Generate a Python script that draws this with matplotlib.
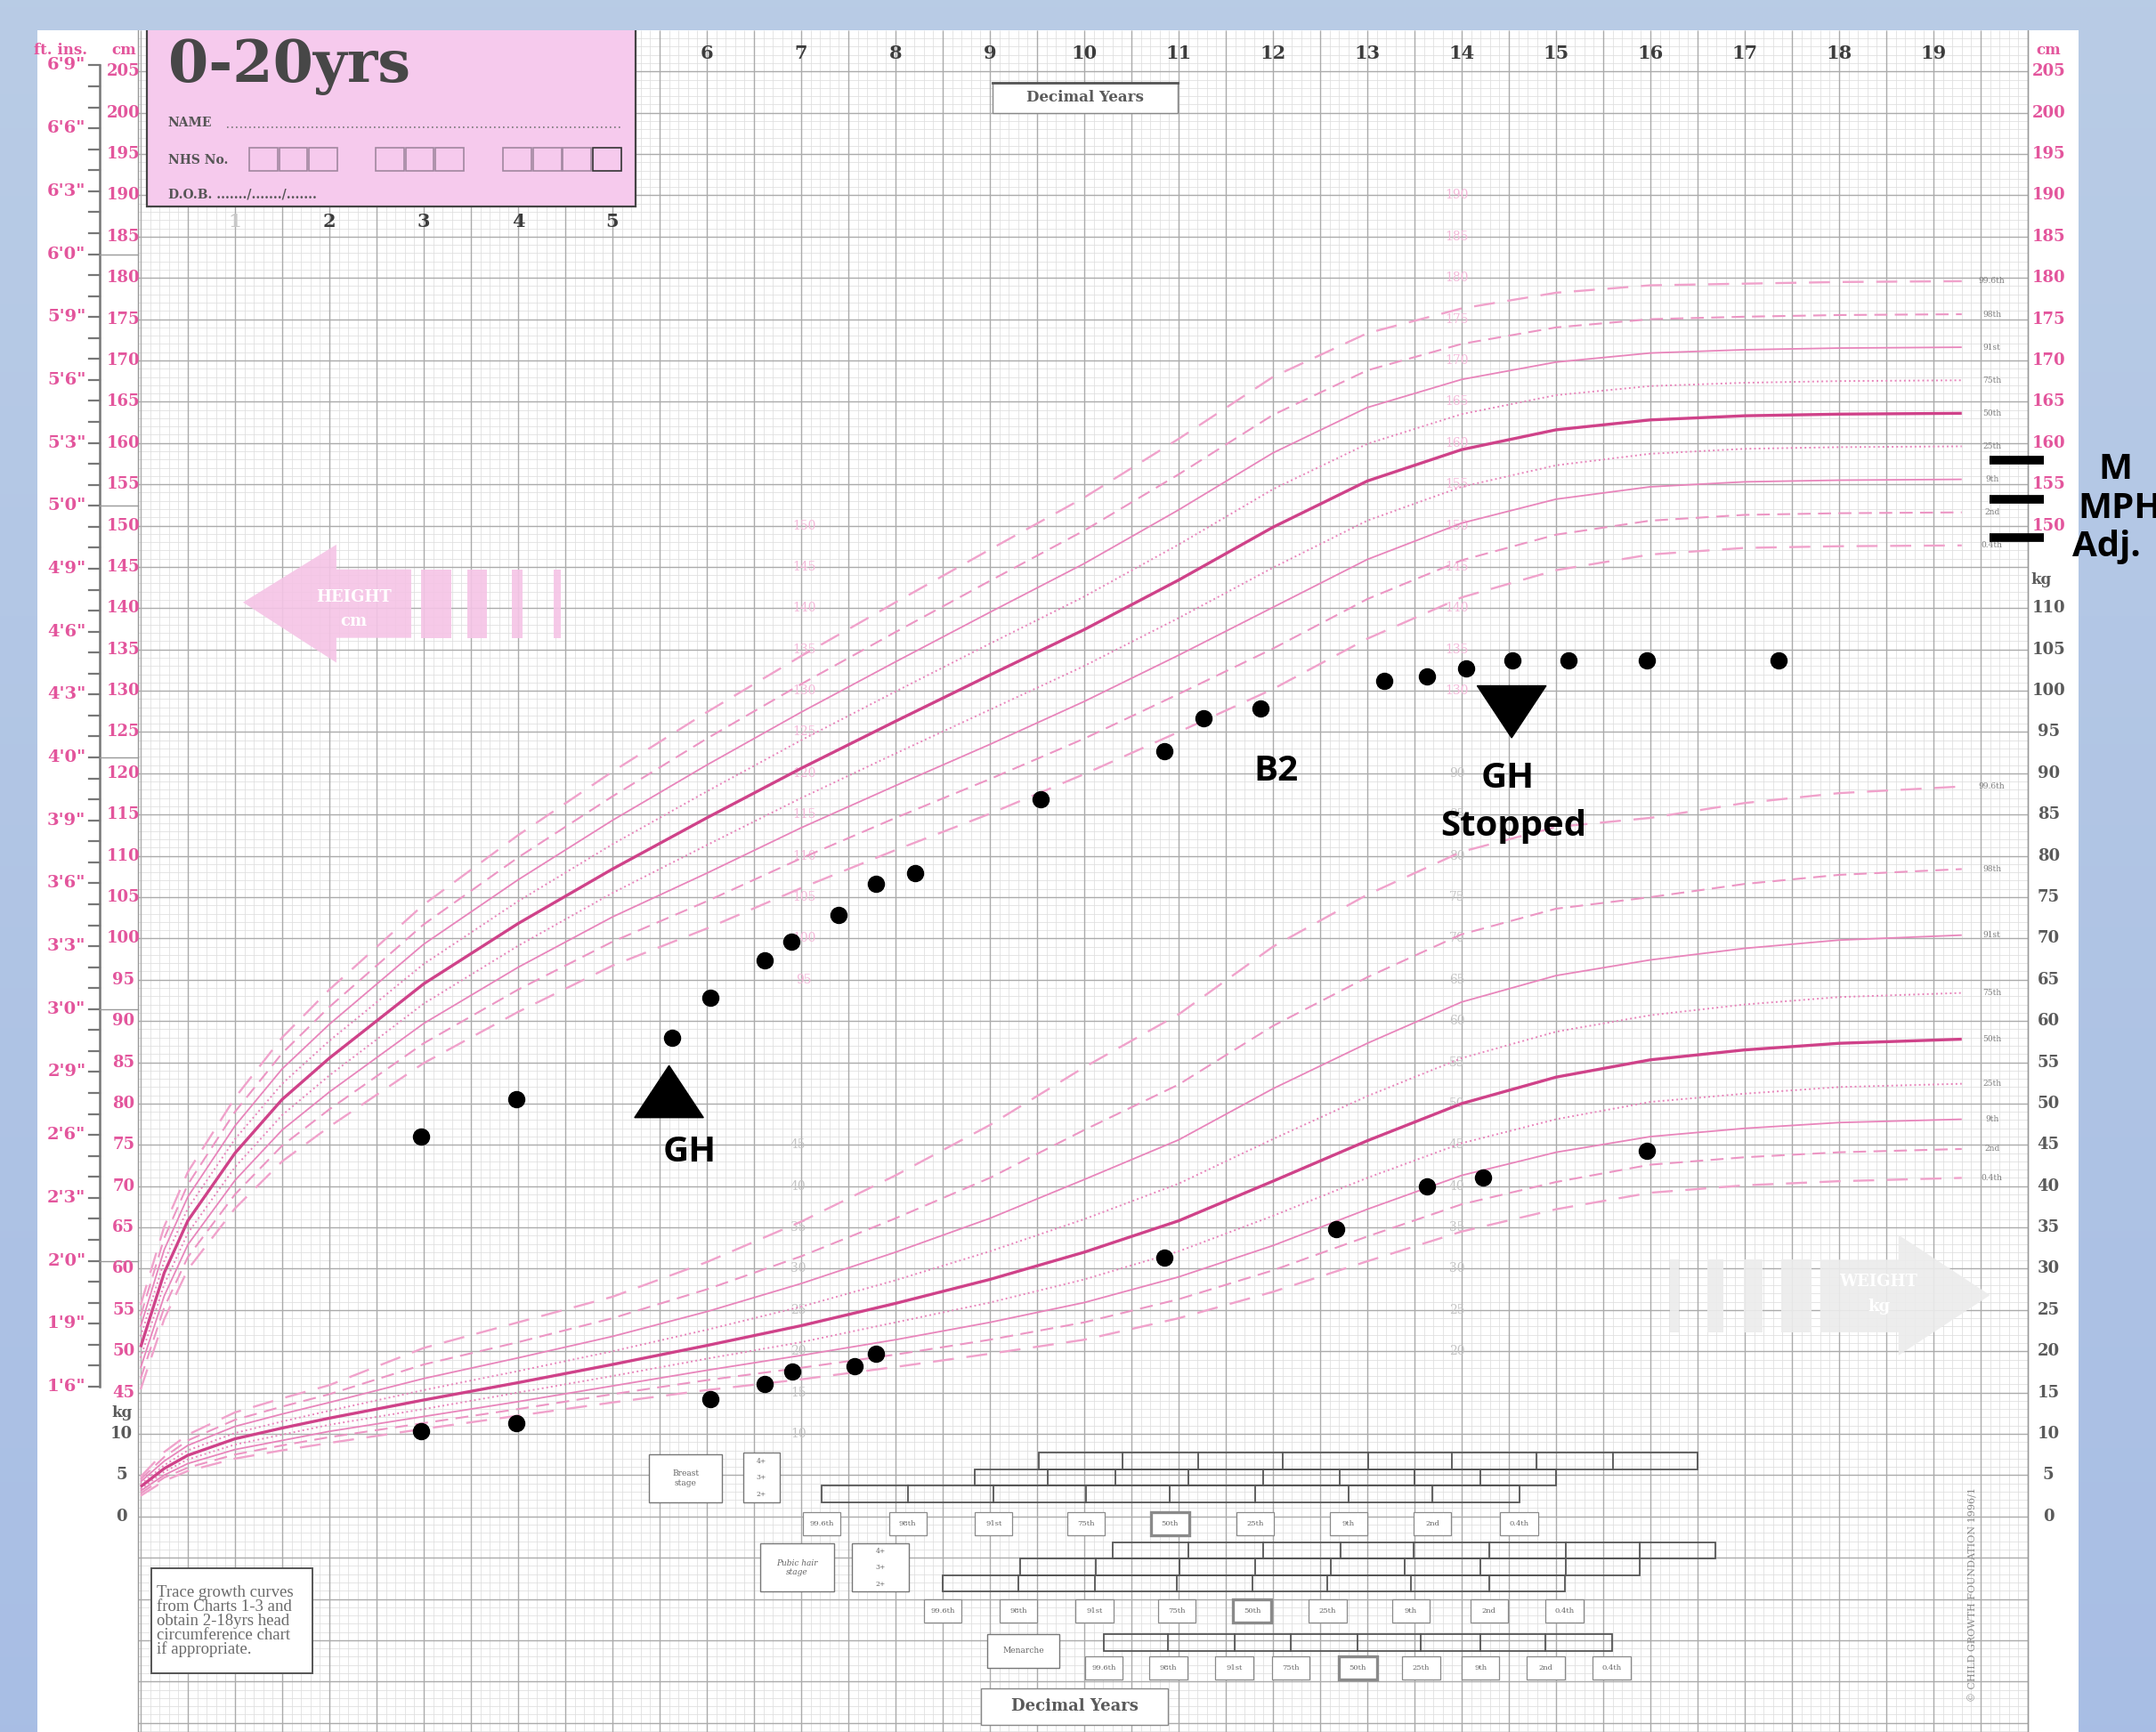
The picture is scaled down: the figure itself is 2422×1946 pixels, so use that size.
import numpy as np
import matplotlib
matplotlib.use("Agg")
import matplotlib.pyplot as plt
from matplotlib.collections import LineCollection
from matplotlib.patches import Rectangle, Polygon

# ---------------------------------------------------------------- centiles
# UK90 girls, 0-20 yrs. Height in cm, weight in kg.
AGE = [0, 0.25, 0.5, 1, 1.5, 2, 3, 4, 5, 6, 7, 8, 9, 10, 11, 12, 13, 14, 15, 16, 17, 18, 19.3]

H_P04 = [45.4, 53.9, 59.9, 67.3, 73.0, 77.2, 84.9, 91.1, 96.7, 101.2, 106.1, 110.7, 115.1, 119.9, 125.0, 130.2, 136.3, 141.3, 144.6, 146.5, 147.3, 147.5, 147.6]
H_P02 = [46.7, 55.3, 61.4, 69.0, 74.9, 79.3, 87.3, 93.8, 99.6, 104.5, 109.7, 114.6, 119.3, 124.2, 129.6, 135.1, 141.1, 145.8, 148.9, 150.6, 151.3, 151.5, 151.6]
H_P09 = [48.0, 56.7, 62.9, 70.7, 76.8, 81.4, 89.7, 96.5, 102.6, 107.9, 113.4, 118.5, 123.5, 128.7, 134.3, 140.1, 145.9, 150.3, 153.2, 154.7, 155.3, 155.5, 155.6]
H_P25 = [49.2, 58.1, 64.3, 72.3, 78.6, 83.4, 92.1, 99.1, 105.5, 111.3, 117.0, 122.4, 127.7, 133.0, 138.8, 144.9, 150.6, 154.7, 157.3, 158.7, 159.3, 159.5, 159.6]
H_P50 = [50.5, 59.5, 65.8, 74.0, 80.5, 85.5, 94.5, 101.8, 108.4, 114.6, 120.6, 126.3, 131.9, 137.4, 143.4, 149.8, 155.4, 159.2, 161.6, 162.8, 163.3, 163.5, 163.6]
H_P75 = [51.8, 60.9, 67.3, 75.7, 82.4, 87.6, 96.9, 104.5, 111.4, 117.8, 124.0, 129.9, 135.7, 141.4, 147.7, 154.4, 159.9, 163.5, 165.8, 166.9, 167.3, 167.5, 167.6]
H_P91 = [53.0, 62.3, 68.7, 77.3, 84.2, 89.6, 99.3, 107.1, 114.3, 121.0, 127.4, 133.5, 139.5, 145.4, 151.9, 158.8, 164.3, 167.7, 169.8, 170.9, 171.3, 171.5, 171.6]
H_P98 = [54.3, 63.7, 70.2, 79.0, 86.1, 91.7, 101.7, 109.8, 117.2, 124.2, 130.8, 137.1, 143.3, 149.4, 156.2, 163.4, 168.8, 172.0, 174.0, 175.0, 175.3, 175.5, 175.6]
H_P996 = [55.6, 65.1, 71.7, 80.7, 88.0, 93.8, 104.1, 112.5, 120.2, 127.4, 134.2, 140.7, 147.1, 153.4, 160.5, 168.0, 173.3, 176.3, 178.2, 179.1, 179.3, 179.5, 179.6]

W_P04 = [2.5, 4.3, 5.5, 7.0, 8.0, 8.9, 10.6, 12.2, 13.8, 15.3, 16.6, 18.1, 19.7, 21.4, 24.0, 27.2, 30.9, 34.5, 37.2, 39.2, 40.1, 40.6, 41.0]
W_P02 = [2.8, 4.7, 5.9, 7.5, 8.6, 9.6, 11.3, 13.0, 14.8, 16.5, 18.0, 19.6, 21.4, 23.5, 26.3, 29.8, 33.9, 37.8, 40.5, 42.6, 43.5, 44.1, 44.5]
W_P09 = [3.1, 5.0, 6.4, 8.1, 9.2, 10.3, 12.1, 13.9, 15.8, 17.7, 19.5, 21.4, 23.5, 25.9, 29.0, 32.8, 37.2, 41.3, 44.1, 46.0, 47.0, 47.7, 48.1]
W_P25 = [3.3, 5.4, 6.9, 8.7, 9.9, 11.1, 13.0, 15.0, 17.0, 19.1, 21.1, 23.5, 25.9, 28.7, 32.1, 36.4, 41.0, 45.2, 48.1, 50.2, 51.2, 52.0, 52.4]
W_P50 = [3.6, 5.8, 7.4, 9.4, 10.7, 11.9, 14.1, 16.2, 18.4, 20.7, 23.1, 25.8, 28.7, 32.0, 35.8, 40.6, 45.5, 50.0, 53.2, 55.3, 56.5, 57.3, 57.8]
W_P75 = [3.9, 6.2, 8.0, 10.1, 11.5, 12.8, 15.3, 17.6, 20.0, 22.6, 25.4, 28.6, 32.1, 36.0, 40.3, 45.7, 50.9, 55.5, 58.7, 60.7, 62.0, 62.9, 63.4]
W_P91 = [4.2, 6.7, 8.6, 10.9, 12.4, 13.8, 16.7, 19.2, 21.8, 24.8, 28.2, 32.0, 36.1, 40.8, 45.6, 51.8, 57.3, 62.3, 65.5, 67.4, 68.8, 69.8, 70.4]
W_P98 = [4.5, 7.2, 9.2, 11.7, 13.3, 14.8, 18.4, 21.1, 24.0, 27.5, 31.5, 36.1, 41.0, 46.8, 52.3, 59.4, 65.3, 70.5, 73.6, 75.0, 76.6, 77.7, 78.4]
W_P996 = [4.8, 7.8, 9.9, 12.6, 14.3, 15.9, 20.4, 23.5, 26.6, 30.8, 35.7, 41.3, 47.4, 54.4, 60.8, 69.0, 75.3, 80.5, 83.5, 84.6, 86.4, 87.6, 88.4]

CENTILE_NAMES = ["0.4th", "2nd", "9th", "25th", "50th", "75th", "91st", "98th", "99.6th"]

# ---------------------------------------------------------------- patient
HT_AGE = [2.97, 3.98, 5.63, 6.04, 6.61, 6.90, 7.40, 7.79, 8.21, 9.54, 10.85, 11.26,
          11.87, 13.18, 13.63, 14.05, 14.54, 15.13, 15.96, 17.36]
HEIGHT = [76.0, 80.5, 88.0, 92.8, 97.4, 99.6, 102.8, 106.6, 107.9, 116.9, 122.7, 126.7,
          127.9, 131.2, 131.7, 132.7, 133.7, 133.7, 133.7, 133.7]
WT_AGE = [2.97, 3.98, 6.04, 6.61, 6.91, 7.57, 7.79, 10.85, 12.67, 13.63, 14.23, 15.96]
WEIGHT = [10.3, 11.3, 14.2, 16.0, 17.5, 18.2, 19.7, 31.3, 34.8, 40.0, 41.0, 44.3]

GH_START = 5.60
GH_STOP = 14.53
B2_AGE = 12.03
PARENT_AGE = 19.88
PARENT_HT = [157.9, 153.2, 148.5]          # mother, mid-parental, adjusted
PARENT_LABELS = ["M", "MPH", "Adj."]

# puberty centile ages (99.6th ... 0.4th boundaries)
BREAST_4 = [9.52, 10.41, 11.21, 12.10, 13.01, 13.90, 14.79, 15.60, 16.50]
BREAST_3 = [8.84, 9.61, 10.33, 11.10, 11.90, 12.71, 13.50, 14.20, 15.00]
BREAST_2 = [7.22, 8.13, 9.04, 10.02, 10.91, 11.81, 12.80, 13.69, 14.61]
PUBIC_4 = [10.30, 11.10, 11.90, 12.72, 13.49, 14.29, 15.10, 15.89, 16.69]
PUBIC_3 = [9.32, 10.12, 11.01, 11.81, 12.61, 13.40, 14.20, 15.10, 15.89]
PUBIC_2 = [8.50, 9.30, 10.11, 10.98, 11.78, 12.58, 13.46, 14.29, 15.09]
MENARCHE = [10.21, 10.89, 11.59, 12.19, 12.90, 13.57, 14.20, 14.89, 15.59]
PUB_LABELS = ["99.6th", "98th", "91st", "75th", "50th", "25th", "9th", "2nd", "0.4th"]

WT_OFFSET = 30   # weight scale sits 30 units below the height scale

# ---------------------------------------------------------------- style
PINK = "#e3559c"
PINK_FAINT = "#f4b8d9"
GREY_TXT = "#5a5a5a"
SERIF = "DejaVu Serif"
TIMES = "Liberation Serif"
SANS = "Open Sans"

LINE_STYLE = {
    "0.4th": dict(color="#f0a2cb", lw=1.7, dashes=(10, 6)),
    "2nd": dict(color="#ec96c4", lw=1.5, dashes=(7, 4)),
    "9th": dict(color="#e885bb", lw=1.3, ls="-"),
    "25th": dict(color="#e885bb", lw=1.4, ls=":"),
    "50th": dict(color="#cf4289", lw=2.4, ls="-"),
    "75th": dict(color="#e885bb", lw=1.4, ls=":"),
    "91st": dict(color="#e885bb", lw=1.3, ls="-"),
    "98th": dict(color="#ec96c4", lw=1.5, dashes=(7, 4)),
    "99.6th": dict(color="#f0a2cb", lw=1.7, dashes=(10, 6)),
}

W, H = 2422, 1946
fig = plt.figure(figsize=(W / 100, H / 100), dpi=100)

# soft blue backdrop
bg = fig.add_axes([0, 0, 1, 1], zorder=-10)
grad = np.linspace(0, 1, 256)[:, None] * np.ones((1, 8))
top = np.array([0.725, 0.800, 0.900])
bot = np.array([0.660, 0.745, 0.895])
img = top[None, None, :] * (1 - grad[:, :, None]) + bot[None, None, :] * grad[:, :, None]
bg.imshow(img, aspect="auto", extent=[0, 1, 0, 1], origin="upper")
bg.axis("off")

ax = fig.add_axes([42 / W, 0, 2293 / W, (H - 34) / H])
ax.set_xlim(-1.094, 20.538)
ax.set_ylim(3.89, 209.99)
ax.set_facecolor("white")
for s in ax.spines.values():
    s.set_visible(False)
ax.set_xticks([])
ax.set_yticks([])

X0, X1 = -0.03, 20.0
Y0, Y1 = 3.89, 209.99

# ---------------------------------------------------------------- grid
minor_v = [[(x, Y0), (x, Y1)] for x in np.arange(0, 20.001, 0.1)]
minor_h = [[(X0, y), (X1, y)] for y in np.arange(4, 210, 1)]
ax.add_collection(LineCollection(minor_v + minor_h, colors="#dedede", linewidths=0.55, zorder=1))
major_v = [[(x, Y0), (x, Y1)] for x in np.arange(0, 20.001, 0.5)]
major_h = [[(X0, y), (X1, y)] for y in np.arange(5, 206, 5)]
ax.add_collection(LineCollection(major_v + major_h, colors="#ababab", linewidths=1.0, zorder=1.1))
ax.plot([X0, X0], [Y0, Y1], color="#999999", lw=1.0, zorder=1.1)

# ---------------------------------------------------------------- big arrows
hx = [1.085, 2.075, 2.075, 2.868, 2.868, 2.075, 2.075]
hy = [140.7, 147.7, 144.7, 144.7, 136.4, 136.4, 133.4]
ax.add_patch(Polygon(list(zip(hx, hy)), closed=True, fc="#f5c4e6", ec="none", alpha=0.9, zorder=1.5))
for a, b in [(2.97, 3.29), (3.46, 3.67), (3.93, 4.05), (4.38, 4.45)]:
    ax.add_patch(Rectangle((a, 136.4), b - a, 8.3, fc="#f5c4e6", ec="none", alpha=0.9, zorder=1.5))
ax.text(2.26, 141.3, "HEIGHT", color="white", fontsize=13, fontweight="bold", family=SERIF,
        ha="center", va="center", zorder=1.6)
ax.text(2.26, 138.4, "cm", color="white", fontsize=13, fontweight="bold", family=SERIF,
        ha="center", va="center", zorder=1.6)

wx = [17.80, 18.63, 18.63, 19.60, 18.63, 18.63, 17.80]
wy = [61.1, 61.1, 64.1, 56.8, 49.5, 52.3, 52.3]
ax.add_patch(Polygon(list(zip(wx, wy)), closed=True, fc="#ececec", ec="none", alpha=0.9, zorder=1.5))
for a, b in [(16.21, 16.30), (16.60, 16.77), (16.99, 17.19), (17.39, 17.71)]:
    ax.add_patch(Rectangle((a, 52.3), b - a, 8.8, fc="#ececec", ec="none", alpha=0.9, zorder=1.5))
ax.text(18.42, 58.4, "WEIGHT", color="white", fontsize=13, fontweight="bold", family=SERIF,
        ha="center", va="center", zorder=1.6)
ax.text(18.42, 55.4, "kg", color="white", fontsize=13, fontweight="bold", family=SERIF,
        ha="center", va="center", zorder=1.6)

# ---------------------------------------------------------------- faint inner scales
for v in range(95, 151, 5):
    ax.text(7.03, v, str(v), color=PINK_FAINT, fontsize=10, family=SERIF, ha="center", va="center", zorder=1.7)
for v in range(130, 191, 5):
    ax.text(13.95, v, str(v), color=PINK_FAINT, fontsize=10, family=SERIF, ha="center", va="center", zorder=1.7)
for v in range(10, 46, 5):
    ax.text(6.97, v + WT_OFFSET, str(v), color="#c4c4c4", fontsize=10, family=SERIF, ha="center", va="center", zorder=1.7)
for v in range(20, 91, 5):
    ax.text(13.95, v + WT_OFFSET, str(v), color="#c4c4c4", fontsize=10, family=SERIF, ha="center", va="center", zorder=1.7)

# ---------------------------------------------------------------- centile curves
h_sets = [H_P04, H_P02, H_P09, H_P25, H_P50, H_P75, H_P91, H_P98, H_P996]
w_sets = [W_P04, W_P02, W_P09, W_P25, W_P50, W_P75, W_P91, W_P98, W_P996]
for name, hv, wv in zip(CENTILE_NAMES, h_sets, w_sets):
    st = dict(LINE_STYLE[name])
    ax.plot(AGE, hv, zorder=3, solid_capstyle="butt", **st)
    ax.plot(AGE, np.array(wv) + WT_OFFSET, zorder=3, solid_capstyle="butt", **st)
    ax.text(19.62, hv[-1], name, fontsize=6.5, color="#808080", family=SERIF, ha="center", va="center", zorder=3)
    ax.text(19.62, wv[-1] + WT_OFFSET, name, fontsize=6.5, color="#808080", family=SERIF, ha="center", va="center", zorder=3)

# ---------------------------------------------------------------- left scales
ax.plot([-0.434, -0.434], [45.72, 205.74], color="#777777", lw=1.8, zorder=2)
for inch in range(18, 82):
    y = inch * 2.54
    ax.plot([-0.55, -0.434], [y, y], color="#777777", lw=1.6, zorder=2)
    if inch % 3 == 0:
        ax.text(-0.58, y, f"{inch // 12}'{inch % 12}\"", color=PINK, fontsize=14,
                fontweight="bold", family=SERIF, ha="right", va="center")
    if inch % 12 == 0:
        ax.plot([-0.434, X0], [y, y], color="#999999", lw=1.0, zorder=2)
for v in range(45, 206, 5):
    ax.text(-0.18, v, str(v), color=PINK, fontsize=13, fontweight="bold", family=SERIF,
            ha="center", va="center")
ax.text(-0.85, 207.6, "ft. ins.", color=PINK, fontsize=12, fontweight="bold", family=SERIF, ha="center", va="center")
ax.text(-0.18, 207.6, "cm", color=PINK, fontsize=12, fontweight="bold", family=SERIF, ha="center", va="center")
ax.text(-0.20, 42.5, "kg", color=GREY_TXT, fontsize=12, fontweight="bold", family=SERIF, ha="center", va="center")
for v in (10, 5, 0):
    ax.text(-0.20, v + WT_OFFSET, str(v), color=GREY_TXT, fontsize=13, fontweight="bold",
            family=SERIF, ha="center", va="center")

# ---------------------------------------------------------------- right scales
ax.plot([X1, X1], [Y0, Y1], color="#999999", lw=1.0, zorder=2)
ax.text(20.22, 207.6, "cm", color=PINK, fontsize=12, fontweight="bold", family=SERIF, ha="center", va="center")
for v in range(150, 206, 5):
    ax.text(20.22, v, str(v), color=PINK, fontsize=13, fontweight="bold", family=SERIF,
            ha="center", va="center")
ax.text(20.14, 143.4, "kg", color=GREY_TXT, fontsize=12, fontweight="bold", family=SERIF, ha="center", va="center")
for v in range(0, 111, 5):
    ax.text(20.22, v + WT_OFFSET, str(v), color=GREY_TXT, fontsize=13, fontweight="bold",
            family=SERIF, ha="center", va="center")

# ---------------------------------------------------------------- year labels
for yr in range(1, 6):
    ax.text(yr, 186.8, str(yr), color="#c8c8c8" if yr == 1 else "#3c3c3c", fontsize=15,
            fontweight="bold", family=SERIF, ha="center", va="center", zorder=2)
for yr in range(6, 20):
    ax.text(yr, 207.2, str(yr), color="#3c3c3c", fontsize=15, fontweight="bold",
            family=SERIF, ha="center", va="center", zorder=2)

ax.add_patch(Rectangle((9.03, 200.0), 1.96, 3.6, fc="white", ec="#888888", lw=1.0, zorder=2))
ax.plot([9.03, 10.99], [203.6, 203.6], color="#555555", lw=2.0, zorder=2.1)
ax.text(10.01, 201.8, "Decimal Years", color=GREY_TXT, fontsize=12, fontweight="bold",
        family=SERIF, ha="center", va="center", zorder=2.2)
ax.add_patch(Rectangle((8.91, 4.7), 1.98, 4.5, fc="white", ec="#888888", lw=1.0, zorder=2))
ax.text(9.90, 7.0, "Decimal Years", color=GREY_TXT, fontsize=13, fontweight="bold",
        family=SERIF, ha="center", va="center", zorder=2.2)

# ---------------------------------------------------------------- name box
ax.add_patch(Rectangle((0.066, 188.6), 5.18, 22.0, fc="#f6caed", ec="#444444", lw=1.6, zorder=5))
ax.text(0.29, 203.7, "0-20yrs", color="#474747", fontsize=47, fontweight="bold", family=SERIF,
        ha="left", va="baseline", zorder=6)
ax.text(0.29, 198.8, "NAME", color="#555555", fontsize=10, fontweight="bold", family=SERIF,
        ha="left", va="center", zorder=6)
ax.plot([0.92, 5.1], [198.2, 198.2], color="#777777", lw=1.2, ls=(0, (1, 2)), zorder=6)
ax.text(0.29, 194.3, "NHS No.", color="#555555", fontsize=10, fontweight="bold", family=SERIF,
        ha="left", va="center", zorder=6)
for start, n in [(1.15, 3), (2.49, 3), (3.84, 4)]:
    for k in range(n):
        ax.add_patch(Rectangle((start + k * 0.318, 193.0), 0.30, 2.8, fc="none",
                               ec="#a187a0" if not (n == 4 and k == 3) else "#333333",
                               lw=1.2, zorder=6))
ax.text(0.29, 190.1, "D.O.B. ......./......./.......", color="#555555", fontsize=10,
        fontweight="bold", family=SERIF, ha="left", va="center", zorder=6)

# ---------------------------------------------------------------- puberty staging
def stage_rows(rows, top, lab_top):
    for i, edges in enumerate(rows):
        y1 = top - 2.0 * i
        ax.add_patch(Rectangle((edges[0], y1 - 2.0), edges[-1] - edges[0], 2.0, fc="none",
                               ec="#555555", lw=1.3, zorder=2))
        for e in edges[1:-1]:
            ax.plot([e, e], [y1 - 2.0, y1], color="#555555", lw=1.3, zorder=2)
    for e, lab in zip(rows[-1], PUB_LABELS):
        ax.add_patch(Rectangle((e - 0.2, lab_top - 2.8), 0.4, 2.8, fc="white", ec="#8a8a8a",
                               lw=2.4 if lab == "50th" else 0.9, zorder=2))
        ax.text(e, lab_top - 1.4, lab, fontsize=6, color="#666666", family=SERIF,
                ha="center", va="center", zorder=2.1)

stage_rows([BREAST_4, BREAST_3, BREAST_2], 37.7, 30.5)
stage_rows([PUBIC_4, PUBIC_3, PUBIC_2], 26.9, 20.0)
stage_rows([MENARCHE], 15.7, 13.0)

def label_box(x0, x1, y0, y1, txt, fs=6.5, style="normal"):
    ax.add_patch(Rectangle((x0, y0), x1 - x0, y1 - y0, fc="white", ec="#777777", lw=1.0, zorder=2))
    ax.text((x0 + x1) / 2, (y0 + y1) / 2, txt, fontsize=fs, color="#666666", family=SERIF,
            style=style, ha="center", va="center", zorder=2.1, linespacing=1.2)

label_box(5.39, 6.16, 31.7, 37.5, "Breast\nstage")
label_box(6.39, 6.77, 31.7, 37.7, "4+\n\n3+\n\n2+", fs=5.5)
label_box(6.57, 7.35, 20.9, 26.7, "Pubic hair\nstage", style="italic")
label_box(7.54, 8.14, 20.9, 26.7, "4+\n\n3+\n\n2+", fs=5.5)
label_box(8.97, 9.74, 11.7, 15.7, "Menarche")

ax.add_patch(Rectangle((0.11, 11.0), 1.71, 12.7, fc="white", ec="#555555", lw=1.4, zorder=2))
ax.text(0.17, 17.3, "Trace growth curves\nfrom Charts 1-3 and\nobtain 2-18yrs head\ncircumference chart\nif appropriate.",
        fontsize=13.5, color="#6a6a6a", family=TIMES, ha="left", va="center", zorder=2.1, linespacing=0.92)

ax.text(19.42, 20.5, "\u00a9 CHILD GROWTH FOUNDATION 1996/1", rotation=90, fontsize=8,
        color="#8a8a8a", family=SERIF, ha="center", va="center", zorder=2)

# ---------------------------------------------------------------- patient data
ax.plot(HT_AGE, HEIGHT, "o", color="black", ms=13, zorder=10)
ax.plot(WT_AGE, np.array(WEIGHT) + WT_OFFSET, "o", color="black", ms=13, zorder=10)

tw, th = 0.73, 6.3
ax.add_patch(Polygon([(GH_START - tw / 2, 78.3), (GH_START + tw / 2, 78.3), (GH_START, 78.3 + th)],
                     closed=True, fc="black", ec="black", zorder=10))
ax.add_patch(Polygon([(GH_STOP - tw / 2, 130.6), (GH_STOP + tw / 2, 130.6), (GH_STOP, 130.6 - th)],
                     closed=True, fc="black", ec="black", zorder=10))

ann = dict(fontsize=29, fontweight="bold", family=SANS, color="black", ha="center",
           va="center", zorder=11)
ax.text(GH_START + 0.22, 74.1, "GH", **ann)
ax.text(GH_STOP - 0.04, 119.4, "GH", **ann)
ax.text(GH_STOP + 0.02, 113.6, "Stopped", **ann)
ax.text(B2_AGE, 120.3, "B2", **ann)

for ht in PARENT_HT:
    ax.plot([PARENT_AGE - 0.29, PARENT_AGE + 0.29], [ht, ht], color="black", lw=7,
            solid_capstyle="butt", zorder=11, clip_on=False)
fig.text(2376 / W, 1 - 528 / H, PARENT_LABELS[0], fontsize=29, fontweight="bold", family=SANS,
         ha="center", va="center")
fig.text(2334 / W, 1 - 571 / H, PARENT_LABELS[1], fontsize=29, fontweight="bold", family=SANS,
         ha="left", va="center")
fig.text(2328 / W, 1 - 615 / H, PARENT_LABELS[2], fontsize=29, fontweight="bold", family=SANS,
         ha="left", va="center")

fig.savefig("out.png", dpi=100)
